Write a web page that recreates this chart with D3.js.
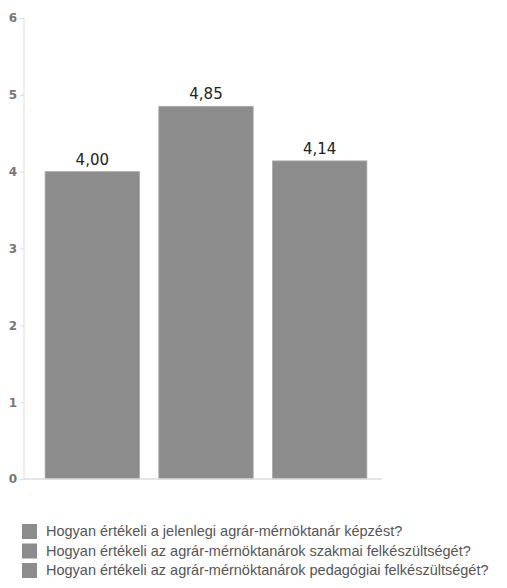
<!DOCTYPE html>
<html lang="hu">
<head>
<meta charset="UTF-8">
<title>Agrár-mérnöktanár értékelés</title>
<style>
body{ margin:0; background:#fff; }
.axis text{ font-family:"DejaVu Sans",sans-serif; font-size:12px; fill:#777; font-weight:bold; }
.axis path, .axis line{ stroke:#ddd; }
.vlabel{ font-family:"DejaVu Sans",sans-serif; font-size:15px; fill:#222; text-anchor:middle; }
.legend text{ font-family:"Liberation Sans",Arial,sans-serif; font-size:14.5px; fill:#555; }
</style>
</head>
<body>
<script src="https://cdnjs.cloudflare.com/ajax/libs/d3/7.8.5/d3.min.js"></script>
<script>
var categories = [
	"Hogyan értékeli a jelenlegi agrár-mérnöktanár képzést?",
	"Hogyan értékeli az agrár-mérnöktanárok szakmai felkészültségét?",
	"Hogyan értékeli az agrár-mérnöktanárok pedagógiai felkészültségét?"
];
var values = [4.00, 4.85, 4.14];
var valueLabels = ["4,00", "4,85", "4,14"];
var yTicks = [0, 1, 2, 3, 4, 5, 6];

var W = 507, H = 588, barColor = "#8c8c8c";

var svg = d3.select("body").append("svg").attr("width", W).attr("height", H);

var x = d3.scaleBand().domain(categories).range([30, 382]).paddingInner(0.17).paddingOuter(0.133);
var y = d3.scaleLinear().domain([0, 6]).range([479, 18]);

// y axis
var yAxis = svg.append("g").attr("class", "axis").attr("transform", "translate(24,0)")
	.call(d3.axisLeft(y).tickValues(yTicks).tickFormat(d3.format("d")).tickSize(4).tickSizeOuter(0).tickPadding(3));
yAxis.select(".domain").attr("d", "M0," + y(6) + "V" + y(0));

// bars
svg.append("g").selectAll("rect").data(values).enter().append("rect")
	.attr("x", function(d, i){ return x(categories[i]); })
	.attr("y", function(d){ return y(d); })
	.attr("width", x.bandwidth())
	.attr("height", function(d){ return y(0) - y(d); })
	.attr("fill", barColor)
	.attr("stroke", "#a8a8a8").attr("stroke-width", 0.8);

// baseline
svg.append("line").attr("x1", 24).attr("x2", 382).attr("y1", y(0)).attr("y2", y(0))
	.attr("stroke", "#ddd").attr("stroke-width", 1.5);

// value labels
svg.append("g").selectAll("text").data(values).enter().append("text")
	.attr("class", "vlabel")
	.attr("x", function(d, i){ return x(categories[i]) + x.bandwidth() / 2; })
	.attr("y", function(d){ return y(d) - 7; })
	.text(function(d, i){ return valueLabels[i]; });

// legend
var lg = svg.append("g").attr("class", "legend").selectAll("g").data(categories).enter().append("g")
	.attr("transform", function(d, i){ return "translate(22," + (524 + i * 19.5) + ")"; });
lg.append("rect").attr("width", 15).attr("height", 15).attr("fill", barColor);
lg.append("text").attr("x", 24).attr("y", 12).text(function(d){ return d; });
</script>
</body>
</html>
